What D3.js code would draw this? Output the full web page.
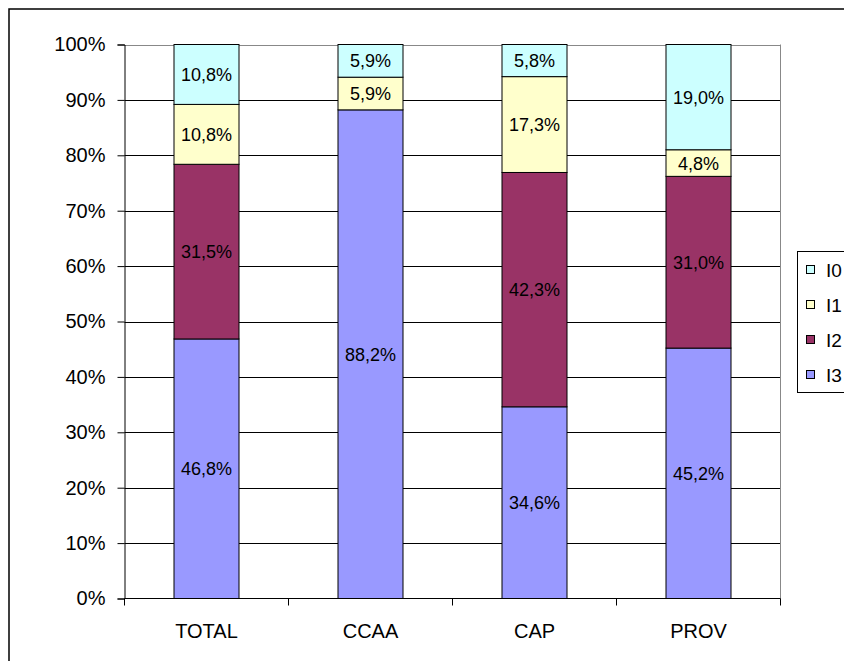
<!DOCTYPE html>
<html lang="es">
<head>
<meta charset="utf-8">
<title>Chart</title>
<script src="https://cdnjs.cloudflare.com/ajax/libs/d3/7.8.5/d3.min.js"></script>
<style>
  body { margin: 0; background: #fff; }
  svg text { font-family: "Liberation Sans", Arial, sans-serif; fill: #000; }
</style>
</head>
<body>
<div id="chart"></div>
<script>
const categories = ["TOTAL", "CCAA", "CAP", "PROV"];
const seriesNames = ["I3", "I2", "I1", "I0"];
const I3 = [46.8, 88.2, 34.6, 45.2];
const I2 = [31.5, 0, 42.3, 31.0];
const I1 = [10.8, 5.9, 17.3, 4.8];
const I0 = [10.8, 5.9, 5.8, 19.0];
const yTicks = [0, 10, 20, 30, 40, 50, 60, 70, 80, 90, 100];
const colors = { I3: "#9999FF", I2: "#993366", I1: "#FFFFCC", I0: "#CCFFFF" };

const width = 844, height = 661;
const plotLeft = 124.5, plotRight = 780.5, plotTop = 44.5, plotBottom = 598.5;

const svg = d3.select("#chart").append("svg")
  .attr("width", width).attr("height", height);

// outer frame
svg.append("rect")
  .attr("x", 9).attr("y", 9).attr("width", 860).attr("height", 680)
  .attr("fill", "none").attr("stroke", "#000").attr("stroke-width", 1.5);

// build rows, normalised to 100 like a 100% stacked chart
const rows = categories.map((c, i) => {
  const vals = { I3: I3[i], I2: I2[i], I1: I1[i], I0: I0[i] };
  const total = I3[i] + I2[i] + I1[i] + I0[i];
  const r = { cat: c };
  seriesNames.forEach(s => { r[s] = vals[s] * 100 / total; r[s + "_raw"] = vals[s]; });
  return r;
});
const stacked = d3.stack().keys(seriesNames)(rows);

const x = d3.scaleBand().domain(categories).range([plotLeft, plotRight]).paddingInner(0).paddingOuter(0);
const y = d3.scaleLinear().domain([0, 100]).range([plotBottom, plotTop]);
const barW = 65;

// gridlines
svg.append("g").selectAll("line")
  .data(yTicks.filter(t => t > 0))
  .join("line")
  .attr("x1", plotLeft).attr("x2", plotRight)
  .attr("y1", d => Math.round(y(d)) + 0.5).attr("y2", d => Math.round(y(d)) + 0.5)
  .attr("stroke", d => d === 100 ? "#888" : "#000").attr("stroke-width", 1);

// right border of plot
svg.append("line")
  .attr("x1", plotRight).attr("x2", plotRight).attr("y1", plotTop).attr("y2", plotBottom)
  .attr("stroke", "#888");

// bars
svg.append("g").selectAll("g")
  .data(stacked)
  .join("g")
  .attr("fill", d => colors[d.key])
  .selectAll("rect")
  .data(d => d.filter(p => p[1] - p[0] > 0))
  .join("rect")
  .attr("x", d => x(d.data.cat) + (x.bandwidth() - barW) / 2)
  .attr("y", d => y(d[1]))
  .attr("width", barW)
  .attr("height", d => y(d[0]) - y(d[1]))
  .attr("stroke", "#000").attr("stroke-width", 1);

// data labels
stacked.forEach(layer => {
  svg.append("g").selectAll("text")
    .data(layer.filter(p => p[1] - p[0] > 0))
    .join("text")
    .attr("x", d => x(d.data.cat) + x.bandwidth() / 2)
    .attr("y", d => y((d[0] + d[1]) / 2))
    .attr("dy", "0.36em")
    .attr("text-anchor", "middle")
    .attr("font-size", 18)
    .text(d => d.data[layer.key + "_raw"].toFixed(1).replace(".", ",") + "%");
});

// y axis
const yAxis = d3.axisLeft(y).tickValues(yTicks).tickFormat(d => d + "%").tickSize(7).tickPadding(12);
const gy = svg.append("g").attr("transform", `translate(${plotLeft},0)`).call(yAxis);
gy.select(".domain").attr("stroke", "#000");
gy.selectAll(".tick line").attr("stroke", "#000");
gy.selectAll(".tick text").attr("font-size", 20).attr("font-family", "Liberation Sans, Arial, sans-serif");

// x axis
const gx = svg.append("g").attr("transform", `translate(0,${plotBottom})`);
gx.append("line").attr("x1", plotLeft).attr("x2", plotRight).attr("y1", 0).attr("y2", 0).attr("stroke", "#000");
gx.selectAll(".sep")
  .data(categories.map(c => x(c)).concat([plotRight]))
  .join("line")
  .attr("x1", d => d).attr("x2", d => d).attr("y1", 0).attr("y2", 7)
  .attr("stroke", "#000");
gx.selectAll(".lab")
  .data(categories)
  .join("text")
  .attr("x", d => x(d) + x.bandwidth() / 2)
  .attr("y", 39)
  .attr("text-anchor", "middle")
  .attr("font-size", 20)
  .text(d => d);

// legend
const legend = svg.append("g");
legend.append("rect")
  .attr("x", 797.5).attr("y", 251.5).attr("width", 60).attr("height", 141)
  .attr("fill", "#fff").attr("stroke", "#000");
const legendItems = ["I0", "I1", "I2", "I3"];
const ly = d3.scalePoint().domain(legendItems).range([270, 375]);
legend.selectAll(".sw")
  .data(legendItems)
  .join("rect")
  .attr("x", 806.5).attr("y", d => ly(d) - 4.5).attr("width", 8).attr("height", 8)
  .attr("fill", d => colors[d]).attr("stroke", "#000");
legend.selectAll(".lt")
  .data(legendItems)
  .join("text")
  .attr("x", 826).attr("y", d => ly(d))
  .attr("dy", "0.36em")
  .attr("font-size", 19)
  .text(d => d);
</script>
</body>
</html>
